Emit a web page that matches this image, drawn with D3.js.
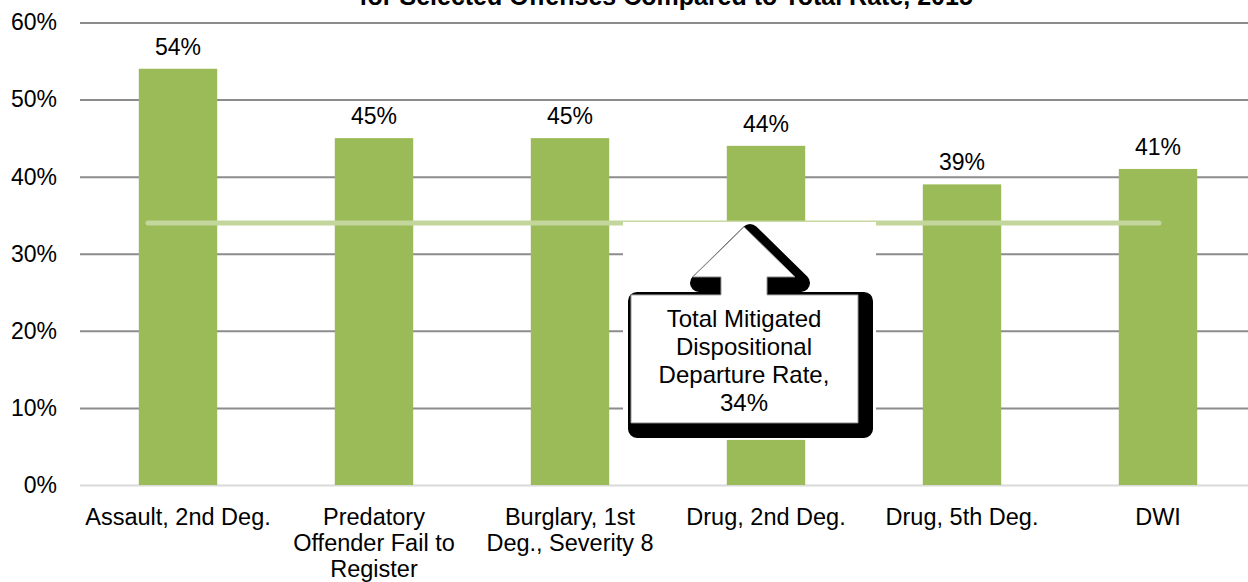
<!DOCTYPE html>
<html>
<head>
<meta charset="utf-8">
<script src="https://cdn.jsdelivr.net/npm/d3@7"></script>
<style>
  html, body { margin: 0; padding: 0; background: #fff; }
  svg { display: block; font-family: "Liberation Sans", Arial, sans-serif; }
</style>
</head>
<body>
<svg id="chart" width="1248" height="582"></svg>
<script>
// Mitigated dispositional departure rates by offense
const categories = [
  ["Assault, 2nd Deg."],
  ["Predatory", "Offender Fail to", "Register"],
  ["Burglary, 1st", "Deg., Severity 8"],
  ["Drug, 2nd Deg."],
  ["Drug, 5th Deg."],
  ["DWI"]
];
const rates = [54, 45, 45, 44, 39, 41];
const totalRate = 34;
const yTicks = [0, 10, 20, 30, 40, 50, 60];
const title = "for Selected Offenses Compared to Total Rate, 2015";
const calloutLines = ["Total Mitigated", "Dispositional", "Departure Rate,", totalRate + "%"];

const svg = d3.select("#chart");
const W = 1248;
const plot = { left: 80, right: 1256, top: 22.5, bottom: 485 };

const x = d3.scaleBand()
  .domain(d3.range(categories.length))
  .range([plot.left, plot.right])
  .padding(0);
const y = d3.scaleLinear().domain([0, 60]).range([plot.bottom, plot.top]);
const barW = x.bandwidth() * 0.4;
const cx = i => x(i) + x.bandwidth() / 2;

// title (the top edge of the page cuts through it)
svg.append("text")
  .attr("x", 666).attr("y", 5)
  .attr("text-anchor", "middle")
  .attr("font-weight", "bold")
  .attr("font-size", 25)
  .attr("fill", "#000")
  .text(title);

// gridlines and y tick labels
const yAxis = d3.axisLeft(y)
  .tickValues(yTicks)
  .tickSize(-(W - plot.left))
  .tickFormat(d => d + "%")
  .tickPadding(23);
const gy = svg.append("g")
  .attr("transform", `translate(${plot.left},0)`)
  .call(yAxis);
gy.select(".domain").remove();
gy.selectAll(".tick line")
  .attr("stroke", d => d === 0 ? "#d9d9d9" : "#8c8c8c")
  .attr("stroke-width", 2);
gy.selectAll(".tick text")
  .attr("font-size", 23)
  .attr("fill", "#000")
  .attr("font-family", "Liberation Sans, Arial, sans-serif");

// bars
svg.append("g").selectAll("rect")
  .data(rates)
  .join("rect")
  .attr("x", (d, i) => cx(i) - barW / 2)
  .attr("y", d => y(d))
  .attr("width", barW)
  .attr("height", d => y(0) - y(d))
  .attr("fill", "#9bbb59");

// value labels
svg.append("g").selectAll("text")
  .data(rates)
  .join("text")
  .attr("x", (d, i) => cx(i))
  .attr("y", d => y(d) - 14)
  .attr("text-anchor", "middle")
  .attr("font-size", 23)
  .attr("fill", "#000")
  .text(d => d + "%");

// category labels, wrapped onto several lines below the axis
svg.append("g").selectAll("text")
  .data(categories)
  .join("text")
  .attr("text-anchor", "middle")
  .attr("font-size", 23.5)
  .attr("fill", "#000")
  .each(function (lines, i) {
    d3.select(this).selectAll("tspan")
      .data(lines)
      .join("tspan")
      .attr("x", cx(i))
      .attr("y", (d, j) => plot.bottom + 40 + 26 * j)
      .text(d => d);
  });

// total-rate reference line
const first = 0, last = rates.length - 1;
svg.append("line")
  .attr("x1", cx(first) - 30)
  .attr("x2", cx(last) + 1)
  .attr("y1", y(totalRate))
  .attr("y2", y(totalRate))
  .attr("stroke", "#c3d69b")
  .attr("stroke-width", 5)
  .attr("stroke-linecap", "round");

// callout: white backing, shadowed up-arrow box, text
const ax = 744;               // horizontal centre of the callout
const apexY = y(totalRate) + 4;
const headBase = apexY + 50, boxTop = apexY + 68, boxBot = apexY + 196;
const boxL = ax - 113, boxR = ax + 114;
const headHalf = 51, stemHalf = 23;

svg.append("rect")
  .attr("x", ax - 121).attr("y", y(totalRate) - 1)
  .attr("width", 253).attr("height", 218)
  .attr("fill", "#fff");

const arrowPath = d3.path();
arrowPath.moveTo(ax, apexY);
arrowPath.lineTo(ax + headHalf, headBase);
arrowPath.lineTo(ax + stemHalf, headBase);
arrowPath.lineTo(ax + stemHalf, boxTop);
arrowPath.lineTo(boxR, boxTop);
arrowPath.lineTo(boxR, boxBot);
arrowPath.lineTo(boxL, boxBot);
arrowPath.lineTo(boxL, boxTop);
arrowPath.lineTo(ax - stemHalf, boxTop);
arrowPath.lineTo(ax - stemHalf, headBase);
arrowPath.lineTo(ax - headHalf, headBase);
arrowPath.closePath();

svg.append("path")
  .attr("d", arrowPath.toString())
  .attr("transform", "translate(6,6)")
  .attr("fill", "#000")
  .attr("stroke", "#000")
  .attr("stroke-width", 18)
  .attr("stroke-linejoin", "round");

svg.append("path")
  .attr("d", arrowPath.toString())
  .attr("fill", "#fff")
  .attr("stroke", "#9a9a9a")
  .attr("stroke-width", 1);

const ct = svg.append("text")
  .attr("text-anchor", "middle")
  .attr("font-size", 24)
  .attr("fill", "#000");
calloutLines.forEach((ln, j) => {
  ct.append("tspan")
    .attr("x", ax)
    .attr("y", boxTop + 32 + j * 28)
    .text(ln);
});
</script>
</body>
</html>
